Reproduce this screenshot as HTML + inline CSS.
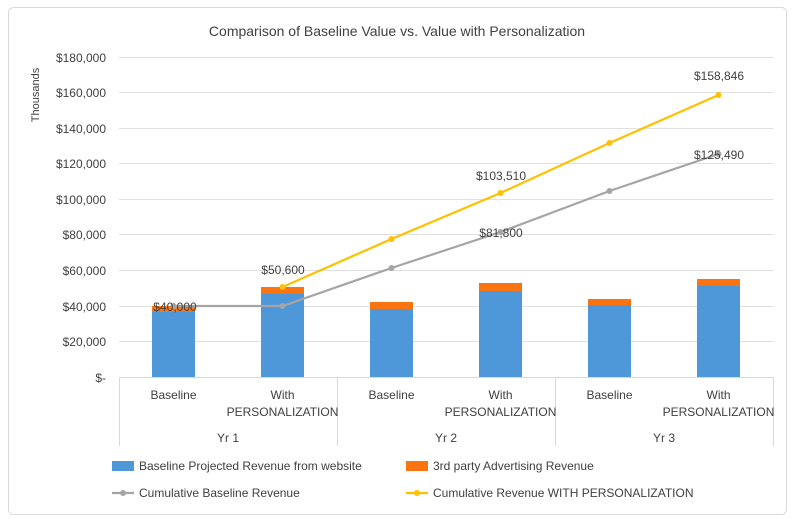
<!DOCTYPE html>
<html><head><meta charset="utf-8"><style>body{margin:0;background:#fff}</style></head><body>
<svg width="795" height="523" viewBox="0 0 795 523" xmlns="http://www.w3.org/2000/svg" font-family="Liberation Sans, sans-serif">
<rect x="0" y="0" width="795" height="523" fill="#fff"/>
<rect x="8.5" y="7.5" width="778" height="507" rx="5" fill="none" stroke="#d9d9d9"/>
<text x="397" y="36" font-size="14" text-anchor="middle" fill="#404040">Comparison  of Baseline Value vs. Value with Personalization</text>
<text transform="translate(39,95) rotate(-90)" font-size="11" text-anchor="middle" fill="#404040">Thousands</text>
<g stroke="#e0e0e0" stroke-width="1">
<line x1="119" x2="773" y1="57.5" y2="57.5"/><line x1="119" x2="773" y1="92.5" y2="92.5"/>
<line x1="119" x2="773" y1="128.5" y2="128.5"/><line x1="119" x2="773" y1="163.5" y2="163.5"/>
<line x1="119" x2="773" y1="199.5" y2="199.5"/><line x1="119" x2="773" y1="234.5" y2="234.5"/>
<line x1="119" x2="773" y1="270.5" y2="270.5"/><line x1="119" x2="773" y1="306.5" y2="306.5"/>
<line x1="119" x2="773" y1="341.5" y2="341.5"/>
</g>
<g font-size="12" fill="#404040" text-anchor="end">
<text x="106" y="62">$180,000</text><text x="106" y="97">$160,000</text><text x="106" y="133">$140,000</text>
<text x="106" y="168">$120,000</text><text x="106" y="204">$100,000</text><text x="106" y="239">$80,000</text>
<text x="106" y="275">$60,000</text><text x="106" y="311">$40,000</text><text x="106" y="346">$20,000</text>
<text x="106" y="382">$-</text>
</g>
<g stroke="#d9d9d9" stroke-width="1">
<line x1="119" x2="773" y1="377.5" y2="377.5"/>
<line x1="119.5" x2="119.5" y1="377" y2="446"/><line x1="337.5" x2="337.5" y1="377" y2="446"/>
<line x1="555.5" x2="555.5" y1="377" y2="446"/><line x1="773.5" x2="773.5" y1="377" y2="446"/>
</g>
<g fill="#4e97d8">
<rect x="152" y="312" width="43" height="65"/><rect x="261" y="294" width="43" height="83"/>
<rect x="370" y="309" width="43" height="68"/><rect x="479" y="291" width="43" height="86"/>
<rect x="588" y="305" width="43" height="72"/><rect x="697" y="286" width="43" height="91"/>
</g>
<g fill="#fa7411">
<rect x="152" y="306" width="43" height="6"/><rect x="261" y="287" width="43" height="7"/>
<rect x="370" y="302" width="43" height="7"/><rect x="479" y="283" width="43" height="8"/>
<rect x="588" y="299" width="43" height="6"/><rect x="697" y="279" width="43" height="7"/>
</g>
<polyline points="173.5,306 282.5,306 391.5,268 500.5,232 609.5,191 718.5,154" fill="none" stroke="#a5a5a5" stroke-width="2.2"/>
<g fill="#a5a5a5"><circle cx="173.5" cy="306" r="3"/><circle cx="282.5" cy="306" r="3"/><circle cx="391.5" cy="268" r="3"/><circle cx="500.5" cy="232" r="3"/><circle cx="609.5" cy="191" r="3"/><circle cx="718.5" cy="154" r="3"/></g>
<polyline points="282.5,287 391.5,239 500.5,193 609.5,143 718.5,95" fill="none" stroke="#ffc000" stroke-width="2.2"/>
<g fill="#ffc000"><circle cx="282.5" cy="287" r="3"/><circle cx="391.5" cy="239" r="3"/><circle cx="500.5" cy="193" r="3"/><circle cx="609.5" cy="143" r="3"/><circle cx="718.5" cy="95" r="3"/></g>
<g font-size="12" fill="#404040" text-anchor="middle">
<text x="175" y="311">$40,000</text><text x="283" y="274">$50,600</text>
<text x="501" y="180">$103,510</text><text x="501" y="237">$81,800</text>
<text x="719" y="80">$158,846</text><text x="719" y="159">$125,490</text>
</g>
<g font-size="12" fill="#404040" text-anchor="middle">
<text x="173.5" y="399">Baseline</text><text x="282.5" y="399">With</text><text x="282.5" y="416">PERSONALIZATION</text>
<text x="391.5" y="399">Baseline</text><text x="500.5" y="399">With</text><text x="500.5" y="416">PERSONALIZATION</text>
<text x="609.5" y="399">Baseline</text><text x="718.5" y="399">With</text><text x="718.5" y="416">PERSONALIZATION</text>
<text x="228" y="442">Yr 1</text><text x="446" y="442">Yr 2</text><text x="664" y="442">Yr 3</text>
</g>
<rect x="112" y="461" width="22" height="10" fill="#4e97d8"/>
<text x="139" y="470" font-size="12" fill="#404040">Baseline Projected Revenue from website</text>
<rect x="406" y="461" width="22" height="10" fill="#fa7411"/>
<text x="433" y="470" font-size="12" fill="#404040">3rd party Advertising Revenue</text>
<line x1="112" x2="134" y1="493" y2="493" stroke="#a5a5a5" stroke-width="2.2"/><circle cx="123" cy="493" r="3" fill="#a5a5a5"/>
<text x="139" y="497" font-size="12" fill="#404040">Cumulative Baseline Revenue</text>
<line x1="406" x2="428" y1="493" y2="493" stroke="#ffc000" stroke-width="2.2"/><circle cx="417" cy="493" r="3" fill="#ffc000"/>
<text x="433" y="497" font-size="12" fill="#404040">Cumulative Revenue WITH PERSONALIZATION</text>
</svg>
</body></html>
